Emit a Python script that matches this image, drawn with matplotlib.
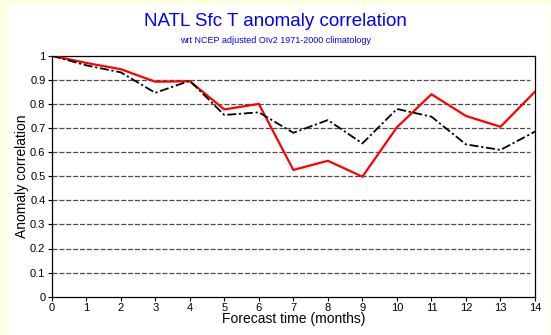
import numpy as np
import matplotlib
matplotlib.use('Agg')
import matplotlib.pyplot as plt
from matplotlib.patches import Rectangle

plt.rcParams['font.family'] = ['Liberation Sans', 'DejaVu Sans']

lead = np.arange(0, 15)
# forecast anomaly correlation vs. lead time (months)
red_ac = [1.0, 0.97, 0.944, 0.892, 0.894, 0.777, 0.80, 0.526, 0.564, 0.498,
          0.703, 0.84, 0.75, 0.705, 0.851]
black_ac = [1.0, 0.96, 0.931, 0.846, 0.896, 0.754, 0.765, 0.68, 0.733, 0.636,
            0.779, 0.747, 0.632, 0.609, 0.685]

yticks = np.round(np.arange(0, 1.01, 0.1), 1)
ytick_labels = ['0'] + [f'{v:g}' for v in yticks[1:-1]] + ['1']

fig = plt.figure(figsize=(5.51, 3.35), dpi=100)
fig.patch.set_facecolor('#ffffe4')
# white panel inside the pale border
fig.patches.append(Rectangle((8 / 551, 0), 541 / 551, 330 / 335,
                             transform=fig.transFigure, facecolor='white',
                             edgecolor='none', zorder=-5))

ax = fig.add_axes([51.7 / 551, 38.3 / 335, 483.3 / 551, 241 / 335])
ax.set_facecolor('white')

ax.plot(lead, red_ac, color='#ff0000', lw=1.6, zorder=3)
ax.plot(lead, black_ac, color='black', lw=1.3, dashes=(5, 1.5, 1.2, 1.5), zorder=4)

ax.set_xlim(0, 14)
ax.set_ylim(0, 1)
ax.set_xticks(lead)
ax.set_yticks(yticks)
ax.set_yticklabels(ytick_labels)
ax.tick_params(axis='both', labelsize=8, length=3, width=0.8, pad=1.5)

for v in yticks[1:-1]:
    ax.axhline(v, xmin=0, xmax=0.99, color='#4d4d4d', lw=0.9,
               dashes=(4, 1.5), zorder=1)

for s in ax.spines.values():
    s.set_linewidth(0.9)

ax.set_xlabel('Forecast time (months)', fontsize=10, labelpad=-1)
ax.set_ylabel('Anomaly correlation', fontsize=10, labelpad=1)

fig.text(0.5, 0.937, 'NATL Sfc T anomaly correlation', color='#0000ff',
         fontsize=13.5, ha='center', va='center')
fig.text(0.5, 0.878, 'wrt NCEP adjusted OIv2 1971-2000 climatology',
         color='#0000ff', fontsize=6.5, ha='center', va='center')

fig.savefig('out.png', dpi=100, facecolor=fig.get_facecolor())
